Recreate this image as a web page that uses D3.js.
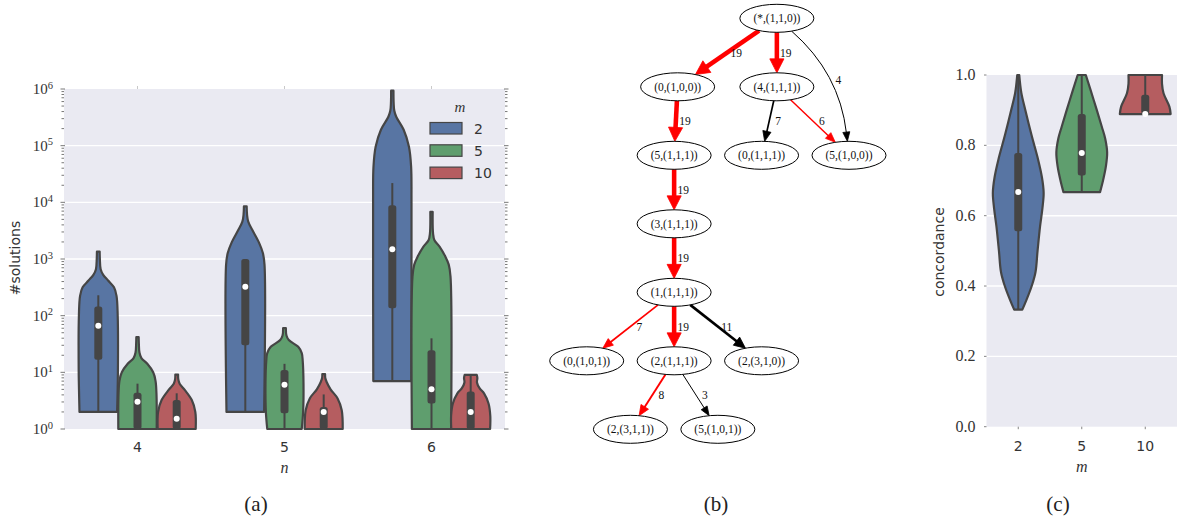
<!DOCTYPE html>
<html>
<head>
<meta charset="utf-8">
<script src="https://cdn.jsdelivr.net/npm/d3@7"></script>
<style>
    body { margin: 0; background: #fff; }
    svg { display: block; }
</style>
</head>
<body>
<svg id="fig" width="1179" height="523"></svg>
<script>
// ---------- data: panel (a) ----------
const nLabels = ['4', '5', '6'];
const mLabels = ['2', '5', '10'];
const logTicks = [0, 1, 2, 3, 4, 5, 6];

// violin outlines: [log10(#solutions), relative half width]
const sol4m2 = [[0.301, 0.96], [1, 1], [2, 0.99], [2.35, 0.93], [2.5, 0.8], [2.62, 0.5], [2.72, 0.25], [2.82, 0.12], [3.0, 0.08], [3.13, 0.07]];
const sol4m5 = [[0, 0.98], [0.6, 0.97], [0.85, 0.92], [1.0, 0.8], [1.15, 0.5], [1.25, 0.2], [1.35, 0.1], [1.5, 0.07], [1.62, 0.06]];
const sol4m10 = [[0, 0.97], [0.3, 0.95], [0.51, 0.77], [0.69, 0.41], [0.8, 0.15], [0.88, 0.08], [0.96, 0.07]];
const sol5m2 = [[0.301, 0.96], [2.9, 0.98], [3.1, 0.9], [3.28, 0.71], [3.51, 0.36], [3.66, 0.15], [3.78, 0.09], [3.93, 0.07]];
const sol5m5 = [[0, 0.88], [0.3, 0.95], [0.8, 0.97], [1.2, 0.93], [1.34, 0.88], [1.45, 0.7], [1.57, 0.22], [1.65, 0.1], [1.78, 0.07]];
const sol5m10 = [[0, 0.97], [0.33, 0.92], [0.54, 0.71], [0.7, 0.35], [0.83, 0.15], [0.9, 0.08], [0.97, 0.07]];
const sol6m2 = [[0.845, 0.97], [4.0, 0.98], [4.63, 0.96], [4.98, 0.85], [5.28, 0.58], [5.51, 0.2], [5.62, 0.1], [5.75, 0.07], [5.97, 0.06]];
const sol6m5 = [[0, 1], [2.69, 0.97], [2.9, 0.88], [3.04, 0.71], [3.22, 0.41], [3.33, 0.15], [3.45, 0.08], [3.83, 0.06]];
const sol6m10 = [[0, 0.99], [0.23, 1.0], [0.45, 0.91], [0.63, 0.68], [0.72, 0.45], [0.82, 0.32], [0.9, 0.34], [0.954, 0.31]];

// inner box: [whisker low, q1, median, q3, whisker high] as log10(#solutions)
const box4m2 = [0.301, 1.22, 1.82, 2.16, 2.36];
const box4m5 = [0, 0, 0.48, 0.64, 0.8];
const box4m10 = [0, 0, 0.18, 0.51, 0.63];
const box5m2 = [0.301, 1.48, 2.51, 3.0, 3.0];
const box5m5 = [0, 0.28, 0.78, 1.04, 1.15];
const box5m10 = [0, 0, 0.3, 0.39, 0.61];
const box6m2 = [0.845, 2.13, 3.17, 3.95, 4.34];
const box6m5 = [0, 0.45, 0.7, 1.39, 1.6];
const box6m10 = [0, 0, 0.3, 0.66, 0.954];

// ---------- data: panel (c) ----------
const concTicks = [0, 0.2, 0.4, 0.6, 0.8, 1.0];
const conc2 = [[0.333, 0.16], [0.36, 0.32], [0.4, 0.53], [0.44, 0.68], [0.5, 0.76], [0.57, 0.86], [0.62, 0.95], [0.665, 1.0], [0.71, 0.93], [0.76, 0.78], [0.83, 0.52], [0.9, 0.28], [0.95, 0.12], [1.0, 0.04]];
const conc5 = [[0.667, 0.72], [0.701, 0.84], [0.74, 0.95], [0.78, 1.0], [0.82, 0.92], [0.853, 0.79], [0.929, 0.47], [1.0, 0.16]];
const conc10 = [[0.889, 1.0], [0.91, 0.95], [0.948, 0.72], [0.975, 0.66], [1.0, 0.66]];
const concBox2 = [0.333, 0.556, 0.667, 0.778, 1.0];
const concBox5 = [0.667, 0.714, 0.778, 0.889, 1.0];
const concBox10 = [0.889, 0.889, 0.889, 0.944, 1.0];

// ---------- data: panel (b) ----------
const nodeNames = ['(*,(1,1,0))', '(0,(1,0,0))', '(4,(1,1,1))', '(5,(1,1,1))', '(0,(1,1,1))', '(5,(1,0,0))',
    '(3,(1,1,1))', '(1,(1,1,1))', '(0,(1,0,1))', '(2,(1,1,1))', '(2,(3,1,0))', '(2,(3,1,1))', '(5,(1,0,1))'];
const nodeRank = [0, 1, 1, 2, 2, 2, 3, 4, 5, 5, 5, 6, 6];
const nodeCol = [4.35, 2.08, 4.35, 2, 4, 6, 2, 2, 0, 2, 4, 1, 3];
// [from, to, weight, on best path, bend]
const edges = [
    [0, 1, 19, true, 0], [0, 2, 19, true, 0], [0, 5, 4, false, 30],
    [1, 3, 19, true, 0], [2, 4, 7, false, 0], [2, 5, 6, true, 0],
    [3, 6, 19, true, 0], [6, 7, 19, true, 0],
    [7, 8, 7, true, 0], [7, 9, 19, true, 0], [7, 10, 11, false, 0],
    [9, 11, 8, true, 0], [9, 12, 3, false, 0]
];

// ---------- styles ----------
const hueColors = { '2': '#5875a3', '5': '#5f9e6e', '10': '#b55d60' };
const gray = '#454545';
const bg = '#eaeaf2';
const serif = '"Liberation Serif", "Times New Roman", serif';
const sans = '"DejaVu Sans", "Bitstream Vera Sans", sans-serif';

const svg = d3.select('#fig');

function drawViolin(g, profile, box, cx, halfW, yFn, color) {
    const area = d3.area()
        .curve(d3.curveCatmullRom.alpha(0.5))
        .y(d => yFn(d[0]))
        .x0(d => cx - halfW * d[1])
        .x1(d => cx + halfW * d[1]);
    g.append('path')
        .attr('d', area(profile))
        .attr('fill', color)
        .attr('stroke', gray)
        .attr('stroke-width', 2.2)
        .attr('stroke-linejoin', 'round');
    // whiskers
    g.append('line')
        .attr('x1', cx).attr('x2', cx)
        .attr('y1', yFn(box[0])).attr('y2', yFn(box[4]))
        .attr('stroke', gray).attr('stroke-width', 2);
    // quartile box
    g.append('rect')
        .attr('x', cx - 4).attr('width', 8)
        .attr('y', yFn(box[3])).attr('height', Math.max(1, yFn(box[1]) - yFn(box[3])))
        .attr('rx', 2.5)
        .attr('fill', gray);
    // median
    g.append('circle')
        .attr('cx', cx).attr('cy', yFn(box[2])).attr('r', 3)
        .attr('fill', '#fff');
}

// ================= panel (a) =================
const plotA = { left: 64, right: 505, top: 89, bottom: 429 };
const xA = d3.scaleBand().domain(nLabels).range([plotA.left, plotA.right]);
const hueA = d3.scaleBand().domain(mLabels).range([-0.4, 0.4]);
const yA = d3.scaleLog().domain([1, 1e6]).range([plotA.bottom, plotA.top]);
const yAexp = e => yA(Math.pow(10, e));

const gA = svg.append('g');
gA.append('rect')
    .attr('x', plotA.left).attr('y', plotA.top)
    .attr('width', plotA.right - plotA.left).attr('height', plotA.bottom - plotA.top)
    .attr('fill', bg);

gA.selectAll('.grid').data(logTicks.slice(1, -1)).join('line')
    .attr('x1', plotA.left).attr('x2', plotA.right)
    .attr('y1', d => yAexp(d)).attr('y2', d => yAexp(d))
    .attr('stroke', '#fff').attr('stroke-width', 1.4);

// minor log ticks, both sides
const minorA = [];
logTicks.slice(0, -1).forEach(k => d3.range(2, 10).forEach(j => minorA.push(j * Math.pow(10, k))));
[[plotA.left - 2.5, plotA.left], [plotA.right, plotA.right + 2.5]].forEach(([x1, x2]) => {
    gA.append('g').selectAll('line').data(minorA).join('line')
        .attr('x1', x1).attr('x2', x2)
        .attr('y1', d => yA(d)).attr('y2', d => yA(d))
        .attr('stroke', '#555').attr('stroke-width', 0.8);
    gA.append('g').selectAll('line').data(logTicks).join('line')
        .attr('x1', x1 - 1).attr('x2', x2 + 1)
        .attr('y1', d => yAexp(d)).attr('y2', d => yAexp(d))
        .attr('stroke', '#555').attr('stroke-width', 0.8);
});
gA.append('g').selectAll('line').data(nLabels).join('line')
    .attr('x1', d => xA(d) + xA.bandwidth() / 2).attr('x2', d => xA(d) + xA.bandwidth() / 2)
    .attr('y1', plotA.top - 3).attr('y2', plotA.top)
    .attr('stroke', '#bbb').attr('stroke-width', 0.8);

// y tick labels 10^k
const yLab = gA.append('g').selectAll('text').data(logTicks).join('text')
    .attr('x', plotA.left - 11)
    .attr('y', d => yAexp(d) + 5)
    .attr('text-anchor', 'end')
    .attr('font-family', serif)
    .attr('font-size', 15)
    .attr('fill', '#333');
yLab.append('tspan').text('10');
yLab.append('tspan').attr('dy', -5.5).attr('font-size', 10.5).text(d => d);

// x tick labels
gA.append('g').selectAll('text').data(nLabels).join('text')
    .attr('x', d => xA(d) + xA.bandwidth() / 2)
    .attr('y', 451.5)
    .attr('text-anchor', 'middle')
    .attr('font-family', sans).attr('font-size', 14).attr('fill', '#333')
    .text(d => d);

// violins
const violinsA = [
    ['4', '2', sol4m2, box4m2], ['4', '5', sol4m5, box4m5], ['4', '10', sol4m10, box4m10],
    ['5', '2', sol5m2, box5m2], ['5', '5', sol5m5, box5m5], ['5', '10', sol5m10, box5m10],
    ['6', '2', sol6m2, box6m2], ['6', '5', sol6m5, box6m5], ['6', '10', sol6m10, box6m10]
];
const halfA = xA.bandwidth() * hueA.bandwidth() / 2;
violinsA.forEach(([n, m, prof, box]) => {
    const cx = xA(n) + xA.bandwidth() / 2 + (hueA(m) + hueA.bandwidth() / 2) * xA.bandwidth();
    drawViolin(gA.append('g'), prof, box, cx, halfA, yAexp, hueColors[m]);
});

// legend
const legA = gA.append('g');
legA.append('text')
    .attr('x', 460).attr('y', 112)
    .attr('text-anchor', 'middle')
    .attr('font-family', serif).attr('font-style', 'italic').attr('font-size', 15)
    .attr('fill', '#333').text('m');
mLabels.forEach((m, i) => {
    const y = 122.5 + i * 22.3;
    legA.append('rect')
        .attr('x', 430).attr('y', y).attr('width', 32).attr('height', 11.5)
        .attr('fill', hueColors[m]).attr('stroke', gray).attr('stroke-width', 1.2);
    legA.append('text')
        .attr('x', 474).attr('y', y + 11)
        .attr('font-family', sans).attr('font-size', 14).attr('fill', '#333')
        .text(m);
});

// axis titles
gA.append('text')
    .attr('transform', 'translate(20,258) rotate(-90)')
    .attr('text-anchor', 'middle')
    .attr('font-family', sans).attr('font-size', 14).attr('fill', '#333')
    .text('#solutions');
gA.append('text')
    .attr('x', (plotA.left + plotA.right) / 2).attr('y', 473)
    .attr('text-anchor', 'middle')
    .attr('font-family', serif).attr('font-style', 'italic').attr('font-size', 16).attr('fill', '#333')
    .text('n');

// ================= panel (c) =================
const plotC = { left: 986.5, right: 1177, top: 75, bottom: 426.7 };
const xC = d3.scaleBand().domain(mLabels).range([plotC.left, plotC.right]);
const yC = d3.scaleLinear().domain([0, 1]).range([plotC.bottom, plotC.top]);

const gC = svg.append('g');
gC.append('rect')
    .attr('x', plotC.left).attr('y', plotC.top)
    .attr('width', plotC.right - plotC.left).attr('height', plotC.bottom - plotC.top)
    .attr('fill', bg);
gC.selectAll('.grid').data(concTicks.slice(1, -1)).join('line')
    .attr('x1', plotC.left).attr('x2', plotC.right)
    .attr('y1', d => yC(d)).attr('y2', d => yC(d))
    .attr('stroke', '#fff').attr('stroke-width', 1.4);
gC.append('g').selectAll('line').data(concTicks).join('line')
    .attr('x1', plotC.left - 2.5).attr('x2', plotC.left)
    .attr('y1', d => yC(d)).attr('y2', d => yC(d))
    .attr('stroke', '#666').attr('stroke-width', 0.8);
gC.append('g').selectAll('line').data(mLabels).join('line')
    .attr('x1', d => xC(d) + xC.bandwidth() / 2).attr('x2', d => xC(d) + xC.bandwidth() / 2)
    .attr('y1', plotC.bottom).attr('y2', plotC.bottom + 2.5)
    .attr('stroke', '#666').attr('stroke-width', 0.8);

gC.append('g').selectAll('text').data(concTicks).join('text')
    .attr('x', plotC.left - 11)
    .attr('y', d => yC(d) + 5)
    .attr('text-anchor', 'end')
    .attr('font-family', serif).attr('font-size', 16).attr('fill', '#333')
    .text(d => d.toFixed(1));
gC.append('g').selectAll('text').data(mLabels).join('text')
    .attr('x', d => xC(d) + xC.bandwidth() / 2)
    .attr('y', 450.5)
    .attr('text-anchor', 'middle')
    .attr('font-family', sans).attr('font-size', 14).attr('fill', '#333')
    .text(d => d);

const violinsC = [['2', conc2, concBox2], ['5', conc5, concBox5], ['10', conc10, concBox10]];
const halfC = xC.bandwidth() * 0.4;
violinsC.forEach(([m, prof, box]) => {
    drawViolin(gC.append('g'), prof, box, xC(m) + xC.bandwidth() / 2, halfC, yC, hueColors[m]);
});

gC.append('text')
    .attr('transform', 'translate(944,252) rotate(-90)')
    .attr('text-anchor', 'middle')
    .attr('font-family', sans).attr('font-size', 14).attr('fill', '#333')
    .text('concordance');
gC.append('text')
    .attr('x', (plotC.left + plotC.right) / 2).attr('y', 472)
    .attr('text-anchor', 'middle')
    .attr('font-family', serif).attr('font-style', 'italic').attr('font-size', 16).attr('fill', '#333')
    .text('m');

// ================= panel (b) =================
const gB = svg.append('g');
const xB = d3.scaleLinear().domain([0, 6]).range([586.7, 849]);
const yB = d3.scaleLinear().domain([0, 6]).range([18.3, 429.3]);
const rx = 37, ry = 14;
const nodes = nodeNames.map((name, i) => ({ name, x: xB(nodeCol[i]), y: yB(nodeRank[i]) }));

// point on ellipse boundary of node c in direction (dx, dy)
function onEllipse(c, dx, dy) {
    const t = 1 / Math.sqrt((dx / rx) ** 2 + (dy / ry) ** 2);
    return [c.x + dx * t, c.y + dy * t];
}

edges.forEach(([from, to, weight, best, bend]) => {
    const a = nodes[from], b = nodes[to];
    const color = best ? '#ff0000' : '#000';
    const w = Math.max(1, weight * 0.24);
    const headLen = 8 + w * 1.3, headHalf = 2.5 + w;
    let ctrl = null;
    if (bend) {
        const dx = b.x - a.x, dy = b.y - a.y, len = Math.hypot(dx, dy);
        ctrl = [(a.x + b.x) / 2 + bend * dy / len, (a.y + b.y) / 2 - bend * dx / len];
    }
    const p0 = ctrl ? onEllipse(a, ctrl[0] - a.x, ctrl[1] - a.y) : onEllipse(a, b.x - a.x, b.y - a.y);
    const tip = ctrl ? onEllipse(b, ctrl[0] - b.x, ctrl[1] - b.y) : onEllipse(b, a.x - b.x, a.y - b.y);
    const from2 = ctrl || p0;
    const ux = tip[0] - from2[0], uy = tip[1] - from2[1], ul = Math.hypot(ux, uy);
    const dirx = ux / ul, diry = uy / ul;
    const base = [tip[0] - dirx * headLen, tip[1] - diry * headLen];

    const path = d3.path();
    path.moveTo(p0[0], p0[1]);
    if (ctrl) path.quadraticCurveTo(ctrl[0], ctrl[1], base[0] + dirx, base[1] + diry);
    else path.lineTo(base[0] + dirx, base[1] + diry);
    gB.append('path')
        .attr('d', path.toString())
        .attr('fill', 'none').attr('stroke', color).attr('stroke-width', w);
    gB.append('polygon')
        .attr('points', [tip,
            [base[0] - diry * headHalf, base[1] + dirx * headHalf],
            [base[0] + diry * headHalf, base[1] - dirx * headHalf]].map(p => p.join(',')).join(' '))
        .attr('fill', color).attr('stroke', color).attr('stroke-width', 0.8)
        .attr('stroke-linejoin', 'miter');

    let lx, ly;
    if (ctrl) {
        lx = 0.25 * p0[0] + 0.5 * ctrl[0] + 0.25 * tip[0];
        ly = 0.25 * p0[1] + 0.5 * ctrl[1] + 0.25 * tip[1];
    } else {
        lx = (p0[0] + tip[0]) / 2;
        ly = (p0[1] + tip[1]) / 2;
    }
    gB.append('text')
        .attr('x', lx + 9).attr('y', ly + 4)
        .attr('text-anchor', 'middle')
        .attr('font-family', serif).attr('font-size', 11.5).attr('fill', '#111')
        .text(weight);
});

const nodeG = gB.selectAll('.node').data(nodes).join('g');
nodeG.append('ellipse')
    .attr('cx', d => d.x).attr('cy', d => d.y)
    .attr('rx', rx).attr('ry', ry)
    .attr('fill', '#fff').attr('stroke', '#000').attr('stroke-width', 1);
nodeG.append('text')
    .attr('x', d => d.x).attr('y', d => d.y + 4)
    .attr('text-anchor', 'middle')
    .attr('font-family', serif).attr('font-size', 11.5).attr('fill', '#111')
    .text(d => d.name);

// ================= captions =================
svg.append('g').selectAll('text')
    .data([['(a)', 256], ['(b)', 716], ['(c)', 1058]])
    .join('text')
    .attr('x', d => d[1]).attr('y', 511)
    .attr('text-anchor', 'middle')
    .attr('font-family', serif).attr('font-size', 21).attr('fill', '#222')
    .text(d => d[0]);
</script>
</body>
</html>
